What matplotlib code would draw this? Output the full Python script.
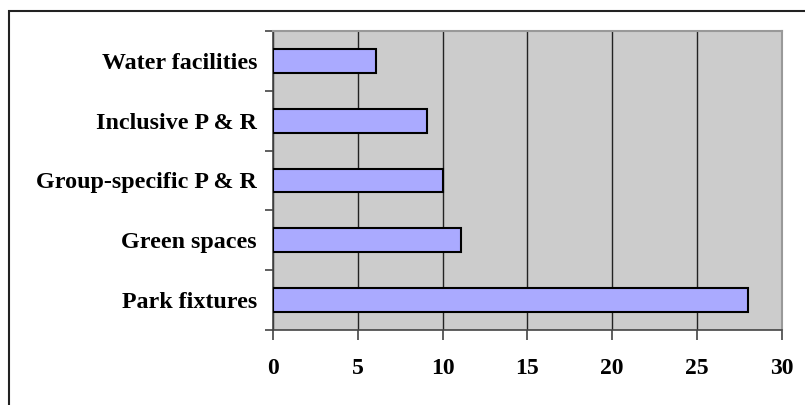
# Horizontal bar chart, Excel style

import matplotlib
matplotlib.use("Agg")
import matplotlib.pyplot as plt
from matplotlib.patches import Rectangle
import numpy as np

categories = ['Park fixtures', 'Green spaces', 'Group-specific P & R',
              'Inclusive P & R', 'Water facilities']
values = [28.0, 11.1, 10.0, 9.1, 6.1]
xticks = [0, 5, 10, 15, 20, 25, 30]

plt.rcParams['font.family'] = ['Liberation Serif', 'DejaVu Serif']
plt.rcParams['font.weight'] = 'bold'

fig = plt.figure(figsize=(8.05, 4.05), dpi=100)
ax = fig.add_axes([273 / 805, 1 - 330 / 405, (781.5 - 273) / 805, (330 - 31) / 405])

# outer chart border (runs past right and bottom edge like the original)
fig.patches.append(Rectangle((9 / 805, -0.05), 1.2, 1 - 11 / 405 + 0.05,
                             transform=fig.transFigure, fill=False,
                             edgecolor='#222222', linewidth=1.5))

ax.set_facecolor('#cccccc')
y = np.arange(len(categories))
ax.barh(y, values, height=0.4, color='#aaaaff', edgecolor='black',
        linewidth=1.5, zorder=3)

ax.set_xlim(0, 30)
ax.set_ylim(-0.5, len(categories) - 0.5)
ax.set_xticks(xticks)
ax.set_xticklabels([str(t) for t in xticks], fontsize=17, fontweight='bold')
ax.set_yticks(y)
ax.set_yticklabels(categories, fontsize=17.3, fontweight='bold')
ax.set_yticks(np.arange(-0.5, len(categories)), minor=True)

ax.xaxis.grid(True, color='#222222', linewidth=1.0, zorder=1)
ax.set_axisbelow(True)

ax.tick_params(axis='y', which='major', length=0, pad=11.5)
ax.tick_params(axis='y', which='minor', length=6, width=1.2, color='#444444')
ax.tick_params(axis='x', length=7, width=1.2, color='#444444', pad=13.5)

for side in ['left', 'bottom']:
    ax.spines[side].set_color('#444444')
    ax.spines[side].set_linewidth(1.2)
for side in ['top', 'right']:
    ax.spines[side].set_color('#999999')
    ax.spines[side].set_linewidth(1.5)

fig.savefig('out.png', dpi=100)
